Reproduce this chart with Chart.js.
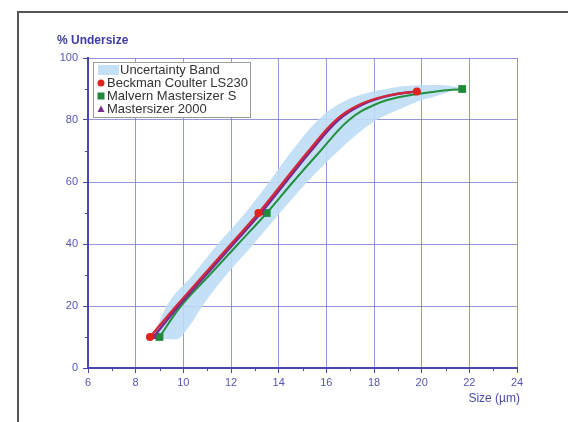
<!DOCTYPE html>
<html>
<head>
<meta charset="utf-8">
<script src="https://cdn.jsdelivr.net/npm/chart.js@4.4.1/dist/chart.umd.min.js"></script>
<style>
  html, body { margin: 0; padding: 0; background: #fff; overflow: hidden; }
  #wrap { position: relative; width: 568px; height: 422px; }
  #frame { position: absolute; left: 17px; top: 11px; width: 620px; height: 480px;
           border-left: 2px solid #555; border-top: 2px solid #555; }
  canvas { position: absolute; left: 0; top: 0; }
</style>
</head>
<body>
<div id="wrap">
  <div id="frame"></div>
  <canvas id="sizeChart" width="568" height="422"></canvas>
</div>
<script>
// values
const beckmanSize = [8.6, 9.7, 10.85, 12.0, 13.15, 14.2, 15.25, 16.4, 17.4, 18.65, 19.8];
const beckmanPct  = [10, 20, 30, 40, 50, 60, 70, 80, 85, 88, 89.2];
const malvernSize = [9.0, 9.9, 11.1, 12.3, 13.5, 14.6, 15.75, 16.95, 18.05, 19.2, 20.6, 21.7];
const malvernPct  = [10, 20, 30, 40, 50, 60, 70, 80, 85, 87.6, 89.2, 90];
const ms2000Size  = [8.75, 9.8, 10.95, 12.1, 13.25, 14.3, 15.35, 16.5, 17.5, 18.7, 19.8];
const ms2000Pct   = [10, 20, 30, 40, 50, 60, 70, 80, 85, 88, 89.2];

const bandUpperSize = [8.7, 9.3, 10.4, 11.45, 12.6, 13.6, 14.55, 15.65, 16.5, 17.5, 18.6, 19.8, 20.8, 21.6];
const bandUpperPct  = [9.5, 20, 30, 40, 50, 60, 70, 80, 85, 88.3, 90.2, 91.2, 91.3, 90.5];
const bandLowerSize = [8.7, 9.7, 10.3, 10.8, 11.8, 12.95, 14.05, 15.2, 16.5, 18.0, 19.0, 19.8, 21.0, 21.6];
const bandLowerPct  = [9.5, 9.2, 14, 20, 30, 40, 50, 60, 70, 79.5, 83.2, 85.9, 88.6, 90.5];

const xMin = 6, xMax = 24, xStep = 2;
const yMin = 0, yMax = 100, yStep = 20;

const yTitle = '% Undersize';
const xTitle = 'Size (\u00b5m)';

function toPoints(xs, ys) {
    return xs.map((x, i) => ({ x: x, y: ys[i] }));
}

// markers only on the 10 / 50 / 90 % points
function markerRadius(r) {
    return (ctx) => {
        const n = ctx.dataset.data.length;
        const p = ctx.raw;
        if (ctx.dataIndex === 0 || ctx.dataIndex === n - 1 || (p && p.y === 50)) return r;
        return 0;
    };
}

const fontFamily = "'Liberation Sans', Arial, sans-serif";
const axisBlue = '#4646ae';
const gridBlue = 'rgba(122,122,212,0.8)';
const labelBlue = '#5656b4';
const bandColor = 'rgba(188,221,245,0.9)';

const legendItems = [
    { text: 'Uncertainty Band', kind: 'band', color: bandColor },
    { text: 'Beckman Coulter LS230', kind: 'circle', color: '#e2231c' },
    { text: 'Malvern Mastersizer S', kind: 'rect', color: '#1f8a3c' },
    { text: 'Mastersizer 2000', kind: 'triangle', color: '#7a2a8c' }
];

const insideLegend = {
    id: 'insideLegend',
    afterDraw(chart) {
        const ctx = chart.ctx;
        const left = chart.chartArea.left + 5;
        const top = chart.chartArea.top + 4;
        ctx.save();
        ctx.fillStyle = '#fff';
        ctx.fillRect(left, top, 157, 55);
        ctx.strokeStyle = '#9a9a9a';
        ctx.lineWidth = 1;
        ctx.strokeRect(left + 0.5, top + 0.5, 157, 55);
        ctx.font = '13px ' + fontFamily;
        ctx.textBaseline = 'middle';
        legendItems.forEach((item, i) => {
            const cy = top + 8 + i * 13;
            ctx.fillStyle = item.color;
            if (item.kind === 'band') {
                ctx.fillRect(left + 5, cy - 5, 21, 10);
                ctx.fillStyle = '#333';
                ctx.fillText(item.text, left + 27, cy);
                return;
            }
            const mx = left + 8;
            ctx.beginPath();
            if (item.kind === 'circle') {
                ctx.arc(mx, cy, 3.5, 0, Math.PI * 2);
            } else if (item.kind === 'rect') {
                ctx.rect(mx - 3.5, cy - 3.5, 7, 7);
            } else {
                ctx.moveTo(mx, cy - 3.5);
                ctx.lineTo(mx + 3.5, cy + 3);
                ctx.lineTo(mx - 3.5, cy + 3);
                ctx.closePath();
            }
            ctx.fill();
            ctx.fillStyle = '#333';
            ctx.fillText(item.text, left + 14, cy);
        });
        ctx.restore();
    }
};

const axisExtras = {
    id: 'axisExtras',
    afterDraw(chart) {
        const ctx = chart.ctx;
        const xs = chart.scales.x, ys = chart.scales.y;
        const area = chart.chartArea;
        ctx.save();
        // minor ticks
        ctx.strokeStyle = axisBlue;
        ctx.lineWidth = 1;
        ctx.beginPath();
        for (let v = xMin + 1; v < xMax; v += xStep) {
            const px = Math.round(xs.getPixelForValue(v)) + 0.5;
            ctx.moveTo(px, area.bottom);
            ctx.lineTo(px, area.bottom + 3);
        }
        for (let v = yMin + 10; v < yMax; v += yStep) {
            const py = Math.round(ys.getPixelForValue(v)) + 0.5;
            ctx.moveTo(area.left - 3, py);
            ctx.lineTo(area.left, py);
        }
        ctx.stroke();
        // axis titles
        ctx.fillStyle = '#3c3ca2';
        ctx.font = 'bold 12px ' + fontFamily;
        ctx.textBaseline = 'middle';
        ctx.textAlign = 'left';
        ctx.fillText(yTitle, 57, 41);
        ctx.font = '12px ' + fontFamily;
        ctx.fillStyle = '#4a4aaa';
        ctx.textAlign = 'right';
        ctx.fillText(xTitle, 520, 399);
        ctx.restore();
    }
};

new Chart(document.getElementById('sizeChart'), {
    type: 'line',
    data: {
        datasets: [
            {
                label: 'Band upper',
                data: toPoints(bandUpperSize, bandUpperPct),
                borderWidth: 0,
                borderColor: 'rgba(0,0,0,0)',
                backgroundColor: bandColor,
                pointRadius: 0,
                fill: '+1',
                cubicInterpolationMode: 'monotone',
                order: 10
            },
            {
                label: 'Band lower',
                data: toPoints(bandLowerSize, bandLowerPct),
                borderWidth: 0,
                borderColor: 'rgba(0,0,0,0)',
                pointRadius: 0,
                fill: false,
                cubicInterpolationMode: 'monotone',
                order: 11
            },
            {
                label: 'Beckman Coulter LS230',
                data: toPoints(beckmanSize, beckmanPct),
                borderColor: '#d4283a',
                backgroundColor: '#e2231c',
                borderWidth: 2.2,
                pointStyle: 'circle',
                pointRadius: markerRadius(4),
                pointBorderWidth: 0,
                tension: 0.4,
                order: 1
            },
            {
                label: 'Mastersizer 2000',
                data: toPoints(ms2000Size, ms2000Pct),
                borderColor: '#7a2a8c',
                backgroundColor: '#7a2a8c',
                borderWidth: 2.5,
                pointStyle: 'triangle',
                pointRadius: markerRadius(4),
                pointBorderWidth: 0,
                tension: 0.4,
                order: 2
            },
            {
                label: 'Malvern Mastersizer S',
                data: toPoints(malvernSize, malvernPct),
                borderColor: '#23903f',
                backgroundColor: '#1f8a3c',
                borderWidth: 2,
                pointStyle: 'rect',
                pointRadius: markerRadius(5.5),
                pointBorderWidth: 0,
                tension: 0.4,
                order: 3
            }
        ]
    },
    options: {
        responsive: false,
        animation: false,
        layout: { padding: { left: 0, top: 58, right: 51, bottom: 0 } },
        plugins: {
            legend: { display: false },
            tooltip: { enabled: false }
        },
        scales: {
            x: {
                type: 'linear',
                min: xMin,
                max: xMax,
                afterFit: (scale) => { scale.height = 54; },
                ticks: {
                    stepSize: xStep,
                    padding: 3,
                    color: labelBlue,
                    font: { family: fontFamily, size: 11 }
                },
                grid: { color: gridBlue, lineWidth: 1, tickLength: 5, tickColor: axisBlue },
                border: { color: axisBlue, width: 2 }
            },
            y: {
                min: yMin,
                max: yMax,
                afterFit: (scale) => { scale.width = 88; },
                ticks: {
                    stepSize: yStep,
                    padding: 5,
                    color: labelBlue,
                    font: { family: fontFamily, size: 11 }
                },
                grid: { color: gridBlue, lineWidth: 1, tickLength: 5, tickColor: axisBlue },
                border: { color: axisBlue, width: 2 }
            }
        }
    },
    plugins: [axisExtras, insideLegend]
});
</script>
</body>
</html>
